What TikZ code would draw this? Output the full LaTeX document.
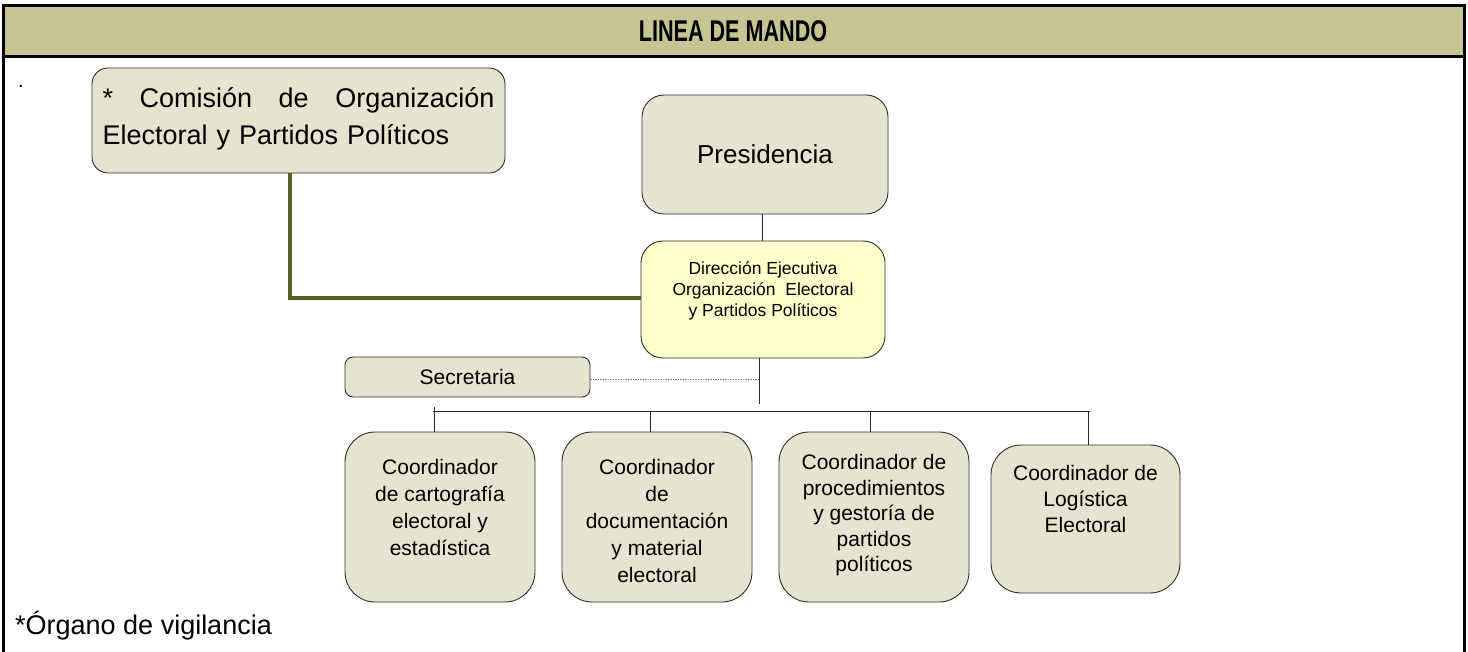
\documentclass[tikz,border=0pt]{standalone}
\usepackage{fontspec}
\setmainfont{Liberation Sans}
\definecolor{hdr}{RGB}{198,196,146}
\definecolor{boxfill}{RGB}{230,228,207}
\definecolor{dirfill}{RGB}{255,255,204}
\definecolor{olivel}{RGB}{79,98,40}
\definecolor{edge}{RGB}{45,45,45}
\definecolor{conn}{RGB}{40,40,40}
\begin{document}
\begin{tikzpicture}[x=1pt,y=-1pt,
  orgbox/.style={draw=edge, line width=0.9pt, fill=boxfill, inner sep=0pt, align=center},
  conline/.style={draw=conn, line width=0.8pt},
  fz/.style 2 args={font=\fontsize{#1}{#2}\selectfont}]
\useasboundingbox (0,0) rectangle (1468,652);
% frame and header
\fill[hdr] (3,6) rectangle (1464,57);
\draw[line width=3pt] (3,652) -- (3,6) -- (1464,6) -- (1464,652);
\draw[line width=3pt] (3,57) -- (1464,57);
\node[font=\bfseries\fontsize{30}{36}\selectfont] (title) at (733,31) {\scalebox{0.72}[1]{LINEA DE MANDO}};
\node[fz={20}{24}, anchor=base west, inner sep=0pt] (dot) at (18,88) {.};
\node[fz={27}{32}, anchor=base west, inner sep=0pt] (nota) at (15,634) {*Órgano de vigilancia};
% boxes
\node[orgbox, rounded corners=16pt, minimum width=413pt, minimum height=105pt, align=left, text width=392pt, fz={27}{37}] (com) at (298.5,120.5)
  {\makebox[392pt][l]{*\hfill Comisión\hfill de\hfill Organización}\\Electoral y Partidos Políticos\rule[-8pt]{0pt}{0pt}};
\node[orgbox, rounded corners=22pt, minimum width=246pt, minimum height=119pt, fz={26}{31}] (pres) at (765,154.5) {Presidencia};
\node[orgbox, fill=dirfill, rounded corners=22pt, minimum width=244pt, minimum height=117pt, fz={17.5}{21}] (dir) at (763,299.5)
  {Dirección Ejecutiva\\Organización\ \ Electoral\\y Partidos Políticos\rule[-20pt]{0pt}{0pt}};
\node[orgbox, rounded corners=8pt, minimum width=245pt, minimum height=40pt, fz={21}{25}] (sec) at (467.5,377) {Secretaria};
\node[orgbox, rounded corners=30pt, minimum width=190pt, minimum height=170pt, fz={21}{27}] (c1) at (440,517)
  {Coordinador\\de cartografía\\electoral y\\estadística\rule[-20pt]{0pt}{0pt}};
\node[orgbox, rounded corners=30pt, minimum width=190pt, minimum height=170pt, fz={21}{27}] (c2) at (657,517)
  {\rule{0pt}{23pt}Coordinador\\de\\documentación\\y material\\electoral};
\node[orgbox, rounded corners=30pt, minimum width=190pt, minimum height=170pt, fz={21}{25.5}] (c3) at (874,517)
  {Coordinador de\\procedimientos\\y gestoría de\\partidos\\políticos\rule[-8pt]{0pt}{0pt}};
\node[orgbox, rounded corners=30pt, minimum width=189pt, minimum height=148pt, fz={21}{26}] (c4) at (1085.5,519)
  {Coordinador de\\Logística\\Electoral\rule[-40pt]{0pt}{0pt}};
% connector helper coordinates
\coordinate (gk) at (290,298);
\coordinate (pk) at (762,0);
\coordinate (dk) at (759,404);
\coordinate (sk) at (759,379);
\coordinate (busl) at (433,411);
\coordinate (busr) at (1090,411);
\coordinate (d1) at (434,407);
\coordinate (d2) at (650,411);
\coordinate (d3) at (870,411);
\coordinate (d4) at (1088,411);
% connectors
\draw[olivel, line width=4pt] (com.south -| gk) -- (gk) -- (dir.west |- gk);
\draw[conline] (pres.south -| pk) -- (dir.north -| pk);
\draw[conline] (dir.south -| dk) -- (dk);
\draw[draw=gray, line width=0.8pt, dash pattern=on 1.5pt off 1pt] (sec.east |- sk) -- (sk);
\draw[conline] (busl) -- (busr);
\draw[conline] (d1) -- (c1.north -| d1);
\draw[conline] (d2) -- (c2.north -| d2);
\draw[conline] (d3) -- (c3.north -| d3);
\draw[conline] (d4) -- (c4.north -| d4);
\end{tikzpicture}
\end{document}
